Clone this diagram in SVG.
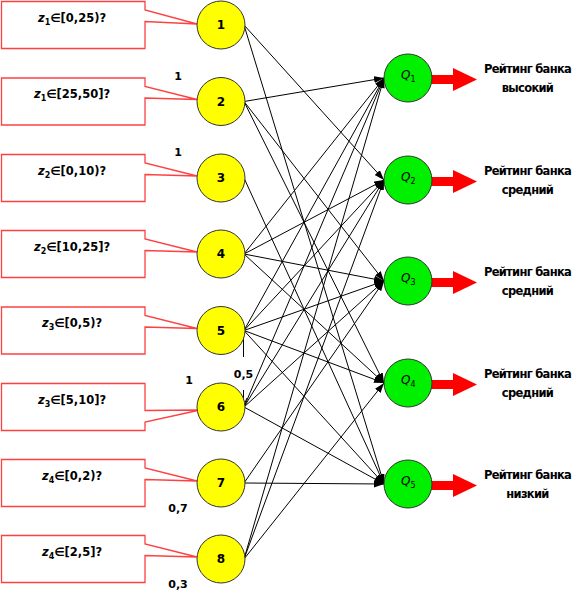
<svg xmlns="http://www.w3.org/2000/svg" width="588" height="595" viewBox="0 0 588 595">
<defs>
<marker id="ah" markerUnits="userSpaceOnUse" markerWidth="11" markerHeight="8" refX="10" refY="3.5" orient="auto">
<path d="M0,0 L10,3.5 L0,7 Z" fill="#000"/>
</marker>
<marker id="av" markerUnits="userSpaceOnUse" markerWidth="10" markerHeight="10" refX="8" refY="4" orient="auto">
<path d="M0,0.5 L8,4 L0,7.5" fill="none" stroke="#000" stroke-width="1"/>
</marker>
</defs>
<style>
.box{fill:#fff;stroke:#ff4040;stroke-width:1.3}
.bt{font-family:"DejaVu Sans",Verdana,sans-serif;font-weight:bold;font-size:11.5px;fill:#000}
.yn{fill:#ffff00;stroke:#333;stroke-width:1}
.gn{fill:#00f000;stroke:#333;stroke-width:1}
.num{font-family:"DejaVu Sans",Verdana,sans-serif;font-weight:bold;font-size:12px;fill:#000;text-anchor:middle}
.ql{font-family:"DejaVu Sans",Verdana,sans-serif;font-size:12px;fill:#000}
.rl{font-family:"DejaVu Sans",Verdana,sans-serif;font-weight:bold;font-size:11.5px;letter-spacing:-0.7px;fill:#000;text-anchor:middle}
.w{font-family:"DejaVu Sans",Verdana,sans-serif;font-weight:bold;font-size:11px;fill:#000;text-anchor:middle}
.c line{stroke:#000;stroke-width:1;marker-end:url(#ah)}
.ra{fill:#ff0000}
</style>
<rect x="0" y="0" width="588" height="595" fill="#fff"/>

<g id="connectors" class="c">
<line x1="244" y1="25" x2="384" y2="180"/>
<line x1="244" y1="25" x2="384" y2="484"/>
<line x1="244" y1="101.5" x2="384" y2="78"/>
<line x1="244" y1="101.5" x2="384" y2="281"/>
<line x1="244" y1="101.5" x2="384" y2="383"/>
<line x1="244" y1="178" x2="384" y2="484"/>
<line x1="244" y1="254" x2="384" y2="78"/>
<line x1="244" y1="254" x2="384" y2="180"/>
<line x1="244" y1="254" x2="384" y2="281"/>
<line x1="244" y1="254" x2="384" y2="383"/>
<line x1="244" y1="330.5" x2="384" y2="78"/>
<line x1="244" y1="330.5" x2="384" y2="180"/>
<line x1="244" y1="330.5" x2="384" y2="281"/>
<line x1="244" y1="330.5" x2="384" y2="383"/>
<line x1="244" y1="330.5" x2="384" y2="484"/>
<line x1="244" y1="407" x2="384" y2="78"/>
<line x1="244" y1="407" x2="384" y2="180"/>
<line x1="244" y1="407" x2="384" y2="281"/>
<line x1="244" y1="407" x2="384" y2="484"/>
<line x1="244" y1="483" x2="384" y2="281"/>
<line x1="244" y1="483" x2="384" y2="484"/>
<line x1="244" y1="559" x2="384" y2="78"/>
<line x1="244" y1="559" x2="384" y2="180"/>
<line x1="244" y1="559" x2="384" y2="383"/>
<path d="M243.5,331 V357" fill="none" stroke="#000" stroke-width="1"/>
<path d="M243.5,390 V406" fill="none" stroke="#000" stroke-width="1" marker-end="url(#av)"/>
</g>

<g id="box1"><polygon class="box" points="1.5,1.5 145,1.5 145,10 197,24 145,21.5 145,48.5 1.5,48.5"/>
<text class="bt" x="72" y="21.5" text-anchor="middle"><tspan font-style="italic">z</tspan><tspan font-size="8" dy="3">1</tspan><tspan dy="-3">∈[0,25)?</tspan></text></g>
<g id="box2"><polygon class="box" points="1.5,78 145,78 145,86.5 197,99.5 145,98 145,125 1.5,125"/>
<text class="bt" x="72" y="98" text-anchor="middle"><tspan font-style="italic">z</tspan><tspan font-size="8" dy="3">1</tspan><tspan dy="-3">∈[25,50]?</tspan></text></g>
<g id="box3"><polygon class="box" points="1.5,154.5 145,154.5 145,163 197,176 145,174.5 145,201.5 1.5,201.5"/>
<text class="bt" x="72" y="174.5" text-anchor="middle"><tspan font-style="italic">z</tspan><tspan font-size="8" dy="3">2</tspan><tspan dy="-3">∈[0,10)?</tspan></text></g>
<g id="box4"><polygon class="box" points="1.5,230.5 145,230.5 145,239 197,252 145,250.5 145,277.5 1.5,277.5"/>
<text class="bt" x="72" y="250.5" text-anchor="middle"><tspan font-style="italic">z</tspan><tspan font-size="8" dy="3">2</tspan><tspan dy="-3">∈[10,25]?</tspan></text></g>
<g id="box5"><polygon class="box" points="1.5,307 145,307 145,315.5 197,328.5 145,327 145,354 1.5,354"/>
<text class="bt" x="72" y="327" text-anchor="middle"><tspan font-style="italic">z</tspan><tspan font-size="8" dy="3">3</tspan><tspan dy="-3">∈[0,5)?</tspan></text></g>
<g id="box6"><polygon class="box" points="1.5,383.5 145,383.5 145,410.5 200,410 145,422 145,430.5 1.5,430.5"/>
<text class="bt" x="72" y="403.5" text-anchor="middle"><tspan font-style="italic">z</tspan><tspan font-size="8" dy="3">3</tspan><tspan dy="-3">∈[5,10]?</tspan></text></g>
<g id="box7"><polygon class="box" points="1.5,459.5 145,459.5 145,468 197,481 145,479.5 145,506.5 1.5,506.5"/>
<text class="bt" x="72" y="479.5" text-anchor="middle"><tspan font-style="italic">z</tspan><tspan font-size="8" dy="3">4</tspan><tspan dy="-3">∈[0,2)?</tspan></text></g>
<g id="box8"><polygon class="box" points="1.5,535.5 145,535.5 145,544 197,557 145,555.5 145,582.5 1.5,582.5"/>
<text class="bt" x="72" y="555.5" text-anchor="middle"><tspan font-style="italic">z</tspan><tspan font-size="8" dy="3">4</tspan><tspan dy="-3">∈[2,5]?</tspan></text></g>

<g id="n1"><circle class="yn" cx="221" cy="25" r="24"/><text class="num" x="221" y="29">1</text></g>
<g id="n2"><circle class="yn" cx="221" cy="101.5" r="24"/><text class="num" x="221" y="105.5">2</text></g>
<g id="n3"><circle class="yn" cx="221" cy="178" r="24"/><text class="num" x="221" y="182">3</text></g>
<g id="n4"><circle class="yn" cx="221" cy="254" r="24"/><text class="num" x="221" y="258">4</text></g>
<g id="n5"><circle class="yn" cx="221" cy="330.5" r="24"/><text class="num" x="221" y="334.5">5</text></g>
<g id="n6"><circle class="yn" cx="221" cy="407" r="24"/><text class="num" x="221" y="411">6</text></g>
<g id="n7"><circle class="yn" cx="221" cy="483" r="24"/><text class="num" x="221" y="487">7</text></g>
<g id="n8"><circle class="yn" cx="221" cy="559" r="24"/><text class="num" x="221" y="563">8</text></g>

<g id="weights">
<text class="w" x="178" y="80">1</text>
<text class="w" x="178" y="156">1</text>
<text class="w" x="189" y="384">1</text>
<text class="w" x="243.5" y="378">0,5</text>
<text class="w" x="178" y="512">0,7</text>
<text class="w" x="178" y="588">0,3</text>
</g>

<g id="q1"><path class="ra" d="M428,75 H453 V68 L477,79.5 L453,91 V84 H428 Z"/><circle class="gn" cx="408" cy="78" r="24"/>
<text class="ql" x="401" y="79"><tspan font-style="italic">Q</tspan><tspan font-size="8" dy="3">1</tspan></text>
<text class="rl" x="527.5" y="72.7">Рейтинг банка</text><text class="rl" x="527.5" y="91.5">высокий</text></g>
<g id="q2"><path class="ra" d="M428,177 H453 V170 L477,181.5 L453,193 V186 H428 Z"/><circle class="gn" cx="408" cy="180" r="24"/>
<text class="ql" x="401" y="181"><tspan font-style="italic">Q</tspan><tspan font-size="8" dy="3">2</tspan></text>
<text class="rl" x="527.5" y="174.7">Рейтинг банка</text><text class="rl" x="527.5" y="193.5">средний</text></g>
<g id="q3"><path class="ra" d="M428,278 H453 V271 L477,282.5 L453,294 V287 H428 Z"/><circle class="gn" cx="408" cy="281" r="24"/>
<text class="ql" x="401" y="282"><tspan font-style="italic">Q</tspan><tspan font-size="8" dy="3">3</tspan></text>
<text class="rl" x="527.5" y="275.7">Рейтинг банка</text><text class="rl" x="527.5" y="294.5">средний</text></g>
<g id="q4"><path class="ra" d="M428,380 H453 V373 L477,384.5 L453,396 V389 H428 Z"/><circle class="gn" cx="408" cy="383" r="24"/>
<text class="ql" x="401" y="384"><tspan font-style="italic">Q</tspan><tspan font-size="8" dy="3">4</tspan></text>
<text class="rl" x="527.5" y="377.7">Рейтинг банка</text><text class="rl" x="527.5" y="396.5">средний</text></g>
<g id="q5"><path class="ra" d="M428,481 H453 V474 L477,485.5 L453,497 V490 H428 Z"/><circle class="gn" cx="408" cy="484" r="24"/>
<text class="ql" x="401" y="485"><tspan font-style="italic">Q</tspan><tspan font-size="8" dy="3">5</tspan></text>
<text class="rl" x="527.5" y="478.7">Рейтинг банка</text><text class="rl" x="527.5" y="497.5">низкий</text></g>
</svg>
